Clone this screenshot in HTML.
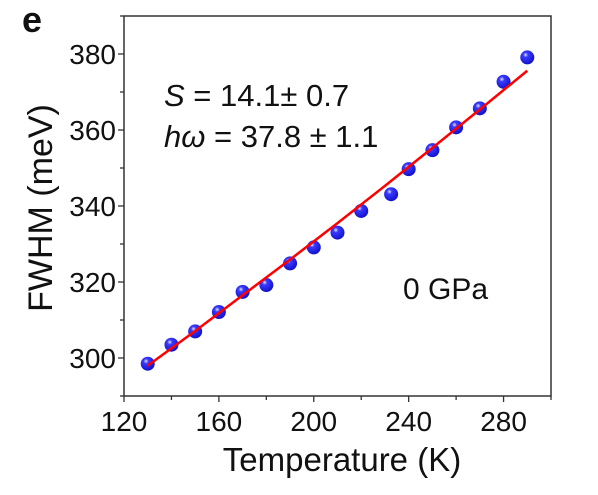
<!DOCTYPE html>
<html><head><meta charset="utf-8"><style>
body{margin:0;background:#fff;width:598px;height:490px;overflow:hidden}
svg text{font-family:"Liberation Sans",Arial,sans-serif;fill:#111}
</style></head><body>
<svg width="598" height="490">
<defs><radialGradient id="ball" cx="0.38" cy="0.32" r="0.7">
<stop offset="0" stop-color="#e8e8ff"/><stop offset="0.25" stop-color="#3a3aff"/><stop offset="1" stop-color="#1010c8"/></radialGradient></defs>
<g id="g"></g>
</svg>
<script>
const temps=[130,140,150,160,170,180,190,200,210,220,232.6,240,250,260,270,280,290];
const fwhm=[298.5,303.5,307.0,312.1,317.4,319.2,324.9,329.1,333.0,338.7,343.1,349.7,354.7,360.7,365.7,372.7,379.1];
const fitT=[130,150,170,190,210,230,250,270,290];
const fitY=[298.0,307.1,316.5,325.9,335.5,345.3,355.3,365.4,375.6];
const xTicks=[120,160,200,240,280];
const yTicks=[300,320,340,360,380];
const L=124,R=551,T=16,B=396,x0=120,x1=300,y0=290,y1=390;
const X=v=>L+(v-x0)/(x1-x0)*(R-L), Y=v=>B-(v-y0)/(y1-y0)*(B-T);
const g=document.getElementById('g');const NS='http://www.w3.org/2000/svg';
function mk(t,a,txt){const e=document.createElementNS(NS,t);for(const k in a)e.setAttribute(k,a[k]);if(txt!=null)e.textContent=txt;g.appendChild(e);return e;}
let e=mk('rect',{x:L,y:T,width:R-L,height:B-T,fill:'none',stroke:'#333','stroke-width':1.5});


for(let v=120;v<=300;v+=20){const big=v%40===0;e=mk('line',{x1:X(v),x2:X(v),y1:B,y2:B+(big?6:4),stroke:'#333','stroke-width':1.3});

}
for(let v=290;v<=390;v+=10){const big=v%20===0;e=mk('line',{x1:L,x2:L-(big?6:4),y1:Y(v),y2:Y(v),stroke:'#333','stroke-width':1.3});

}
xTicks.forEach(v=>{e=mk('text',{x:X(v),y:B+35,'font-size':28,'text-anchor':'middle'},v);

});
yTicks.forEach(v=>{e=mk('text',{x:L-8,y:Y(v)+10,'font-size':28,'text-anchor':'end'},v);

});
e=mk('text',{x:342,y:471,'font-size':33,'text-anchor':'middle'},'Temperature (K)');


e=mk('text',{x:0,y:0,'font-size':34,'text-anchor':'middle',transform:'translate(52,208) rotate(-90)'},'FWHM (meV)');


e=mk('text',{x:22,y:32,'font-size':36,'font-weight':'bold'},'e');


temps.forEach((t,i)=>{e=mk('circle',{cx:X(t),cy:Y(fwhm[i]),r:7,fill:'url(#ball)'});

});
e=mk('polyline',{points:fitT.map((t,i)=>X(t)+','+Y(fitY[i])).join(' '),fill:'none',stroke:'#f00','stroke-width':2.5});


e=mk('text',{x:164,y:106,'font-size':31});e.innerHTML='<tspan font-style="italic">S</tspan> = 14.1± 0.7';


e=mk('text',{x:164,y:147,'font-size':31});e.innerHTML='<tspan font-style="italic">hω</tspan> = 37.8 ± 1.1';


e=mk('text',{x:403,y:299,'font-size':30},'0 GPa');


</script>
</body></html>
